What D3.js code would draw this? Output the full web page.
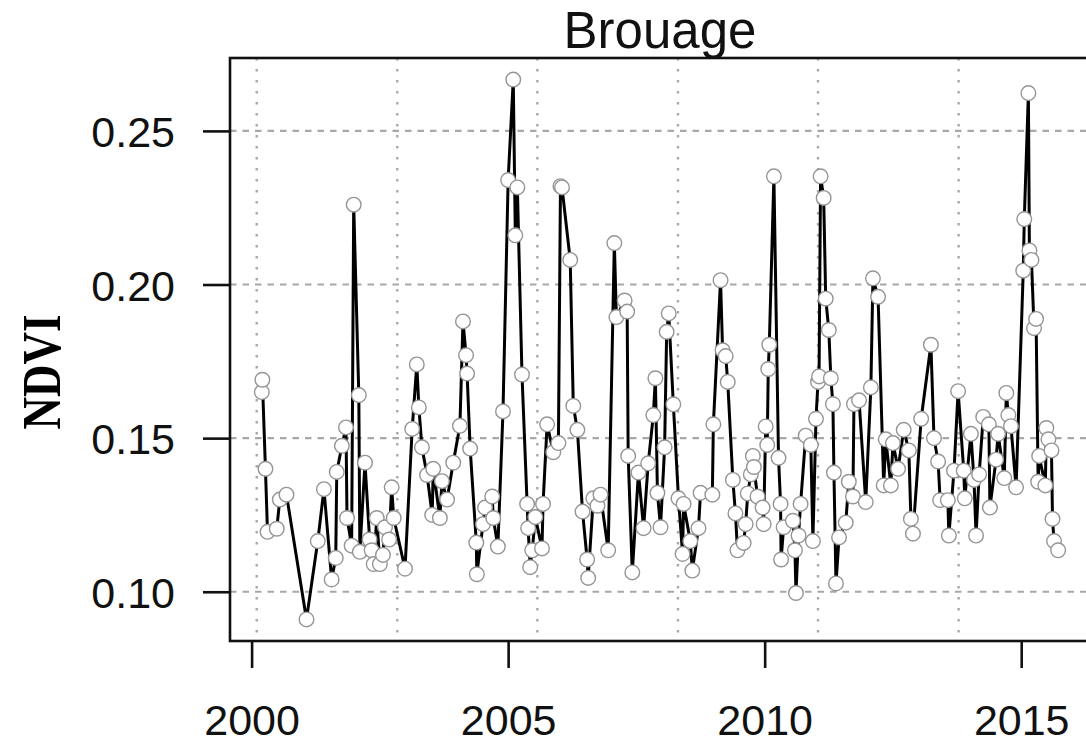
<!DOCTYPE html>
<html>
<head>
<meta charset="utf-8">
<script src="https://cdn.jsdelivr.net/npm/d3@7"></script>
<style>
    body { margin: 0; background: #fff; }
    #content { width: 1086px; height: 744px; overflow: hidden; }
</style>
</head>
<body>
<div id="content"></div>
<script>
'use strict';

// sampling dates (decimal years) and NDVI values
var years = [
    2000.20, 2000.21, 2000.27, 2000.31, 2000.49, 2000.55, 2000.68, 2001.07, 2001.29, 2001.41,
    2001.56, 2001.64, 2001.66, 2001.76, 2001.84, 2001.86, 2001.95, 2001.99, 2002.09, 2002.11,
    2002.21, 2002.30, 2002.34, 2002.38, 2002.44, 2002.50, 2002.56, 2002.60, 2002.68, 2002.73,
    2002.77, 2002.99, 2003.13, 2003.22, 2003.26, 2003.32, 2003.42, 2003.52, 2003.54, 2003.67,
    2003.71, 2003.81, 2003.93, 2004.06, 2004.12, 2004.18, 2004.20, 2004.26, 2004.38, 2004.39,
    2004.51, 2004.55, 2004.69, 2004.71, 2004.80, 2004.90, 2005.00, 2005.10, 2005.14, 2005.18,
    2005.27, 2005.37, 2005.39, 2005.43, 2005.47, 2005.53, 2005.66, 2005.68, 2005.76, 2005.88,
    2005.98, 2006.02, 2006.05, 2006.21, 2006.27, 2006.35, 2006.45, 2006.54, 2006.56, 2006.66,
    2006.74, 2006.80, 2006.95, 2007.07, 2007.11, 2007.27, 2007.32, 2007.34, 2007.42, 2007.54,
    2007.64, 2007.73, 2007.83, 2007.87, 2007.91, 2007.97, 2008.05, 2008.09, 2008.13, 2008.22,
    2008.32, 2008.40, 2008.42, 2008.55, 2008.59, 2008.71, 2008.75, 2008.98, 2009.00, 2009.14,
    2009.18, 2009.24, 2009.28, 2009.38, 2009.43, 2009.47, 2009.59, 2009.63, 2009.67, 2009.73,
    2009.77, 2009.79, 2009.86, 2009.96, 2009.98, 2010.02, 2010.05, 2010.07, 2010.09, 2010.18,
    2010.27, 2010.31, 2010.32, 2010.37, 2010.55, 2010.59, 2010.61, 2010.66, 2010.70, 2010.80,
    2010.90, 2010.94, 2011.00, 2011.04, 2011.06, 2011.09, 2011.15, 2011.19, 2011.25, 2011.29,
    2011.33, 2011.35, 2011.39, 2011.45, 2011.58, 2011.64, 2011.72, 2011.74, 2011.84, 2011.97,
    2012.07, 2012.11, 2012.21, 2012.32, 2012.36, 2012.46, 2012.50, 2012.60, 2012.71, 2012.81,
    2012.85, 2012.89, 2013.05, 2013.24, 2013.30, 2013.38, 2013.42, 2013.57, 2013.59, 2013.69,
    2013.77, 2013.88, 2013.90, 2014.02, 2014.08, 2014.12, 2014.18, 2014.26, 2014.37, 2014.39,
    2014.51, 2014.55, 2014.67, 2014.71, 2014.75, 2014.80, 2014.90, 2015.04, 2015.06, 2015.14,
    2015.16, 2015.20, 2015.25, 2015.29, 2015.33, 2015.35, 2015.47, 2015.49, 2015.53, 2015.59,
    2015.61, 2015.64, 2015.72
];

var ndvi = [
    0.165, 0.169, 0.140, 0.1195, 0.1205, 0.130, 0.1316, 0.091, 0.1165, 0.1334,
    0.104, 0.111, 0.139, 0.1475, 0.1535, 0.124, 0.115, 0.226, 0.164, 0.113,
    0.142, 0.117, 0.1135, 0.109, 0.124, 0.109, 0.112, 0.121, 0.117, 0.134,
    0.124, 0.1075, 0.153, 0.174, 0.160, 0.147, 0.138, 0.125, 0.140, 0.124,
    0.136, 0.130, 0.142, 0.154, 0.188, 0.177, 0.171, 0.1466, 0.116, 0.1057,
    0.122, 0.1274, 0.131, 0.124, 0.1147, 0.1587, 0.234, 0.2667, 0.216, 0.2316,
    0.1707, 0.1286, 0.1207, 0.108, 0.1135, 0.1243, 0.1141, 0.1286, 0.1545, 0.1454,
    0.1484, 0.232, 0.2316, 0.208, 0.1605, 0.1527, 0.1261, 0.1105, 0.1045, 0.1304,
    0.128, 0.1316, 0.1135, 0.2135, 0.1894, 0.1948, 0.1912, 0.1442, 0.1063, 0.1388,
    0.1207, 0.1418, 0.1575, 0.1695, 0.1322, 0.121, 0.147, 0.1846, 0.1906, 0.161,
    0.1304, 0.1123, 0.1286, 0.1165, 0.1069, 0.1207, 0.1322, 0.1316, 0.1545, 0.2014,
    0.1786, 0.1767, 0.1683, 0.1364, 0.1255, 0.1135, 0.1159, 0.122, 0.132, 0.1382,
    0.1442, 0.1406, 0.131, 0.1274, 0.122, 0.1538, 0.1478, 0.1725, 0.1804, 0.2352,
    0.1436, 0.1286, 0.1105, 0.121, 0.1231, 0.1135, 0.0996, 0.1183, 0.1286, 0.1508,
    0.1478, 0.1165, 0.1563, 0.1683, 0.1701, 0.2352, 0.2282, 0.1954, 0.1852, 0.1695,
    0.1611, 0.1388, 0.1027, 0.1177, 0.1225, 0.1358, 0.131, 0.1611, 0.1623, 0.1292,
    0.1665, 0.202, 0.196, 0.1346, 0.1496, 0.1346, 0.1484, 0.14, 0.1527, 0.146,
    0.1237, 0.1189, 0.1563, 0.1804, 0.15, 0.1424, 0.1298, 0.1298, 0.1183, 0.1394,
    0.1653, 0.1394, 0.1304, 0.1514, 0.1364, 0.1183, 0.1382, 0.1569, 0.1545, 0.1274,
    0.143, 0.1514, 0.137, 0.1647, 0.1575, 0.1539, 0.134, 0.2045, 0.2213, 0.2623,
    0.2111, 0.208, 0.1858, 0.1888, 0.1358, 0.1442, 0.1346, 0.1533, 0.1496, 0.146,
    0.1237, 0.1165, 0.1135
];

var xTicks = [2000, 2005, 2010, 2015];
var yTicks = [0.10, 0.15, 0.20, 0.25];
var gridYears = [2000.10, 2002.84, 2005.57, 2008.31, 2011.04, 2013.78];

var Utils = {
    // R style axis range: data extent padded by 4% on each side
    padExtent: function (values) {
        var ext = d3.extent(values);
        var pad = (ext[1] - ext[0]) * 0.04;
        return [ext[0] - pad, ext[1] + pad];
    }
};

function run() {
    var width = 1086, height = 744;
    var plot = { left: 230, right: 1090, top: 58, bottom: 641 };

    var data = years.map(function (t, i) {
        return { t: t, v: ndvi[i] };
    });

    var svg = d3.select('#content')
        .append('svg')
        .attr('width', width)
        .attr('height', height)
        .style('background', '#fff');

    var x = d3.scaleLinear()
        .domain(Utils.padExtent(years))
        .range([plot.left, plot.right]);

    var y = d3.scaleLinear()
        .domain(Utils.padExtent(ndvi))
        .range([plot.bottom, plot.top]);

    // grid
    svg.append('g')
        .selectAll('line')
        .data(yTicks)
        .enter()
        .append('line')
        .attr('x1', plot.left)
        .attr('x2', plot.right)
        .attr('y1', function (d) { return y(d); })
        .attr('y2', function (d) { return y(d); })
        .style('stroke', '#a8a8a8')
        .style('stroke-width', 2.2)
        .style('stroke-dasharray', '6.5,6');

    svg.append('g')
        .selectAll('line')
        .data(gridYears)
        .enter()
        .append('line')
        .attr('x1', function (d) { return x(d); })
        .attr('x2', function (d) { return x(d); })
        .attr('y1', plot.top)
        .attr('y2', plot.bottom)
        .style('stroke', '#a8a8a8')
        .style('stroke-width', 2.4)
        .style('stroke-dasharray', '2.5,8.5');

    // series
    var line = d3.line()
        .x(function (d) { return x(d.t); })
        .y(function (d) { return y(d.v); });

    svg.append('path')
        .datum(data)
        .attr('d', line)
        .style('fill', 'none')
        .style('stroke', '#000')
        .style('stroke-width', 3)
        .style('stroke-linejoin', 'round');

    svg.append('g')
        .selectAll('circle')
        .data(data)
        .enter()
        .append('circle')
        .attr('cx', function (d) { return x(d.t); })
        .attr('cy', function (d) { return y(d.v); })
        .attr('r', 7.3)
        .style('fill', '#fff')
        .style('stroke', '#959595')
        .style('stroke-width', 1.4);

    // box
    svg.append('rect')
        .attr('x', plot.left)
        .attr('y', plot.top)
        .attr('width', plot.right - plot.left)
        .attr('height', plot.bottom - plot.top)
        .style('fill', 'none')
        .style('stroke', '#111')
        .style('stroke-width', 2.6);

    // axes
    var yAxis = svg.append('g')
        .attr('transform', 'translate(' + plot.left + ' 0)')
        .call(d3.axisLeft(y)
            .tickValues(yTicks)
            .tickFormat(d3.format('.2f'))
            .tickSize(27)
            .tickPadding(28));

    var xAxis = svg.append('g')
        .attr('transform', 'translate(0 ' + plot.bottom + ')')
        .call(d3.axisBottom(x)
            .tickValues(xTicks)
            .tickFormat(d3.format('d'))
            .tickSize(27)
            .tickPadding(36));

    [yAxis, xAxis].forEach(function (axis) {
        axis.select('.domain').remove();
        axis.selectAll('.tick line')
            .style('stroke', '#111')
            .style('stroke-width', 2.6);
        axis.selectAll('.tick text')
            .style('font-family', '"Liberation Sans", Arial, sans-serif')
            .style('font-size', '43px')
            .style('fill', '#111');
    });
    yAxis.selectAll('.tick text').attr('dy', '0.36em');

    // labels
    svg.append('text')
        .attr('x', (plot.left + plot.right) / 2)
        .attr('y', 48)
        .style('text-anchor', 'middle')
        .style('font-family', '"Liberation Sans", Arial, sans-serif')
        .style('font-size', '51px')
        .style('fill', '#111')
        .text('Brouage');

    svg.append('text')
        .attr('transform', 'translate(60 372) rotate(-90) scale(1 1.22)')
        .style('text-anchor', 'middle')
        .style('font-family', '"Liberation Serif", "Times New Roman", serif')
        .style('font-weight', 'bold')
        .style('font-size', '45px')
        .style('fill', '#000')
        .text('NDVI');
}

document.addEventListener('DOMContentLoaded', run);
</script>
</body>
</html>
